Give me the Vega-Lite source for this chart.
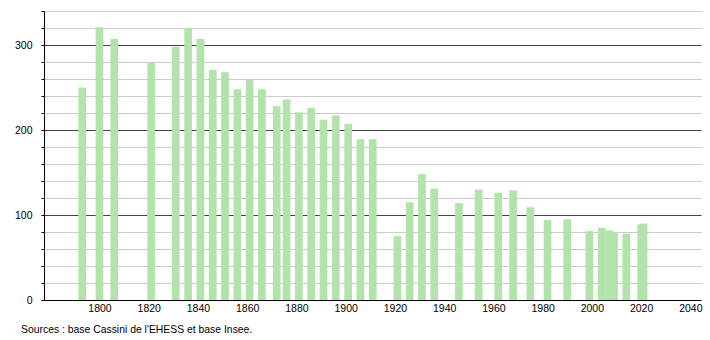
{
  "$schema": "https://vega.github.io/schema/vega-lite/v6.json",
  "width": 657,
  "height": 289,
  "autosize": "none",
  "padding": {"left": 44, "top": 11, "right": 9, "bottom": 40},
  "background": "white",
  "config": {
    "view": {"stroke": null},
    "font": "Liberation Sans"
  },
  "title": {
    "text": "Sources : base Cassini de l'EHESS et base Insee.",
    "orient": "bottom",
    "anchor": "start",
    "frame": "group",
    "dx": -23,
    "offset": 11,
    "fontSize": 10.4,
    "fontWeight": "normal",
    "font": "Liberation Sans",
    "color": "#000000"
  },
  "data": {
    "values": [
      {"year": 1793, "pop": 250},
      {"year": 1800, "pop": 321},
      {"year": 1806, "pop": 307},
      {"year": 1821, "pop": 279},
      {"year": 1831, "pop": 298},
      {"year": 1836, "pop": 320},
      {"year": 1841, "pop": 307},
      {"year": 1846, "pop": 271},
      {"year": 1851, "pop": 268},
      {"year": 1856, "pop": 248},
      {"year": 1861, "pop": 259},
      {"year": 1866, "pop": 248},
      {"year": 1872, "pop": 228},
      {"year": 1876, "pop": 236},
      {"year": 1881, "pop": 221},
      {"year": 1886, "pop": 226},
      {"year": 1891, "pop": 212},
      {"year": 1896, "pop": 217},
      {"year": 1901, "pop": 207},
      {"year": 1906, "pop": 189},
      {"year": 1911, "pop": 189},
      {"year": 1921, "pop": 75},
      {"year": 1926, "pop": 115},
      {"year": 1931, "pop": 148},
      {"year": 1936, "pop": 131},
      {"year": 1946, "pop": 114},
      {"year": 1954, "pop": 130},
      {"year": 1962, "pop": 126},
      {"year": 1968, "pop": 129},
      {"year": 1975, "pop": 109},
      {"year": 1982, "pop": 94},
      {"year": 1990, "pop": 95},
      {"year": 1999, "pop": 81},
      {"year": 2004, "pop": 85},
      {"year": 2007, "pop": 82},
      {"year": 2009, "pop": 80},
      {"year": 2014, "pop": 78},
      {"year": 2020, "pop": 89},
      {"year": 2021, "pop": 90}
    ]
  },
  "mark": {"type": "bar", "size": 7.7, "color": "#b2e3aa"},
  "encoding": {
    "x": {
      "field": "year",
      "type": "quantitative",
      "scale": {"domain": [1779.5, 2042.3], "nice": false, "zero": false},
      "axis": {
        "title": null,
        "values": [1800, 1820, 1840, 1860, 1880, 1900, 1920, 1940, 1960, 1980, 2000, 2020, 2040],
        "format": "d",
        "grid": false,
        "ticks": false,
        "domainColor": "#000000",
        "domainWidth": 1,
        "labelFontSize": 10.5,
        "labelColor": "#000000",
        "labelPadding": 3,
        "labelFont": "Liberation Sans"
      }
    },
    "y": {
      "field": "pop",
      "type": "quantitative",
      "scale": {"domain": [0, 340], "nice": false},
      "axis": {
        "title": null,
        "values": [0, 20, 40, 60, 80, 100, 120, 140, 160, 180, 200, 220, 240, 260, 280, 300, 320, 340],
        "labelExpr": "datum.value % 100 === 0 ? datum.label : ''",
        "grid": true,
        "gridColor": {"condition": {"test": "datum.value % 100 === 0 && datum.value > 0", "value": "#444444"}, "value": "#cccccc"},
        "gridWidth": 1,
        "tickSize": 3,
        "tickColor": "#000000",
        "domainColor": "#000000",
        "domainWidth": 1,
        "labelFontSize": 10.5,
        "labelColor": "#000000",
        "labelPadding": 9,
        "labelFont": "Liberation Sans"
      }
    }
  }
}
